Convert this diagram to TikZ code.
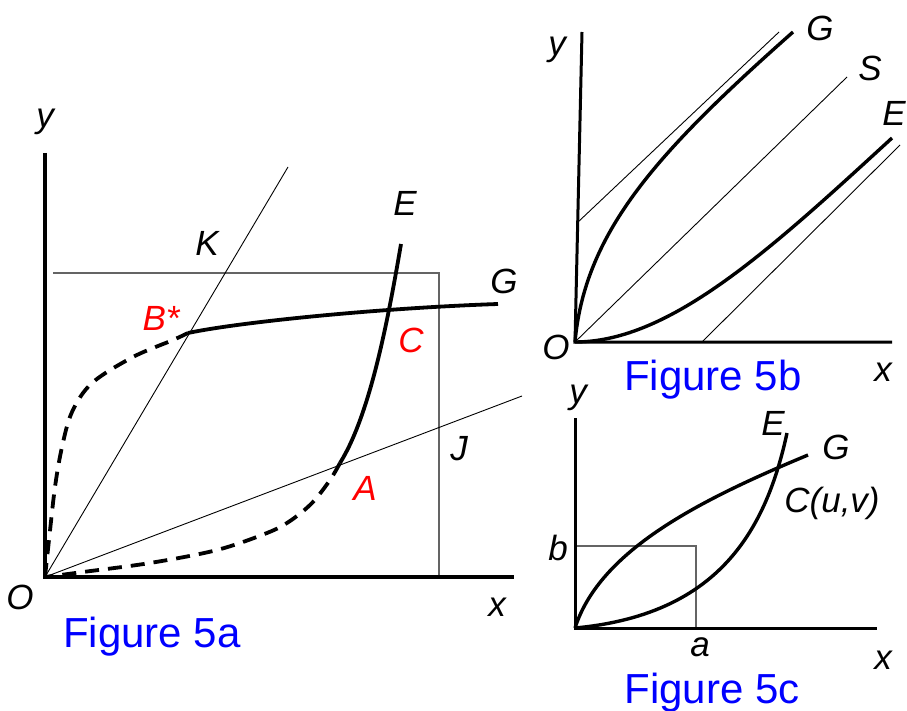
\documentclass[tikz,border=0pt]{standalone}
\usepackage{fontspec}
\setmainfont{Liberation Sans}
\begin{document}
\begin{tikzpicture}[x=1pt,y=-1pt,
  lab/.style={inner sep=0pt,font=\fontsize{35}{40}\selectfont\itshape},
  redlab/.style={lab,text=red},
  title/.style={inner sep=0pt,text={rgb,255:red,0;green,0;blue,255},font=\fontsize{42}{46}\selectfont},
  axis/.style={line width=4pt},
  axisb/.style={line width=3pt},
  curve/.style={line width=3.8pt},
  curveb/.style={line width=3.4pt},
  dashcurve/.style={line width=3.8pt,dash pattern=on 14pt off 9pt},
  thin/.style={line width=0.9pt},
  grayline/.style={line width=1.3pt,draw={rgb,255:red,100;green,100;blue,100}}]
\useasboundingbox (0,0) rectangle (907,711);
% ---------- Figure 5a ----------
\coordinate (Oa) at (45,577);
\coordinate (ya) at (45,153);
\coordinate (xa) at (514,577);
\coordinate (Bs) at (188,333);
\coordinate (A) at (340,463);
\coordinate (Kend) at (288,167);
\coordinate (Jend) at (522,396);
\coordinate (Gend) at (498,304);
\coordinate (Etop) at (401,244);
\coordinate (R1) at (53,273);
\coordinate (R2) at (439,273);
\coordinate (R3) at (439,577);
\draw[grayline] (R1) -- (R2) -- (R3);
\draw[thin] (Oa) -- (Kend);
\draw[thin] (Oa) -- (Jend);
\draw[axis] (ya) -- (Oa) -- (xa);
\draw[curve] (Bs) .. controls (240,322) and (380,308) .. (Gend);
\draw[dashcurve] plot[smooth,tension=0.55] coordinates {(45,577) (49,540) (55,487) (62,447) (72,412) (92,383) (133,357) (173,340) (188,333)};
\draw[curve] (Etop) .. controls (388,320) and (370,415) .. (A);
\draw[dashcurve] plot[smooth,tension=0.55] coordinates {(340,463) (330,480) (312,503) (290,521) (267,533) (217,550) (150,563) (83,572) (45,577)};
\node[lab] (ly) at (45,122) {y};
\node[lab] (lx) at (497,607) {x};
\node[lab] (lO) at (20,597) {O};
\node[lab] (lK) at (207,243) {K};
\node[lab] (lJ) at (459,449) {J};
\node[lab] (lE) at (405,203) {E};
\node[lab] (lG) at (504,281) {G};
\node[redlab] (lB) at (161,318) {B*};
\node[redlab] (lC) at (411,340) {C};
\node[redlab] (lA) at (365,488) {A};
\node[title] (t5a) at (152,637) {Figure 5a};
% ---------- Figure 5b ----------
\coordinate (Ob) at (575,342);
\coordinate (yb) at (582,32);
\coordinate (xb) at (892,342);
\draw[thin] (577,223) -- (779,32);
\draw[thin] (Ob) -- (847,77);
\draw[thin] (702,342) -- (900,145);
\draw[axisb] (yb) -- (Ob) -- (xb);
\draw[curveb] (Ob) .. controls (585,230) and (660,150) .. (793,32);
\draw[curveb] (Ob) .. controls (670,342) and (770,250) .. (892,138);
\node[lab] (lyb) at (557,50) {y};
\node[lab] (lxb) at (883,372) {x};
\node[lab] (lOb) at (556,347) {O};
\node[lab] (lGb) at (820,28) {G};
\node[lab] (lSb) at (870,68) {S};
\node[lab] (lEb) at (894,113) {E};
\node[title] (t5b) at (713,380) {Figure 5b};
% ---------- Figure 5c ----------
\coordinate (Oc) at (575,628);
\coordinate (yc) at (575,418);
\coordinate (xc) at (877,628);
\draw[grayline] (575,546) -- (696,546) -- (696,628);
\draw[axisb] (yc) -- (Oc) -- (xc);
\draw[curveb] (Oc) .. controls (600,550) and (700,500) .. (808,455);
\draw[curveb] (Oc) .. controls (715,615) and (765,535) .. (787,433);
\node[lab] (lyc) at (578,398) {y};
\node[lab] (lxc) at (883,660) {x};
\node[lab] (lbc) at (558,548) {b};
\node[lab] (lac) at (700,647) {a};
\node[lab] (lEc) at (773,423) {E};
\node[lab] (lGc) at (836,447) {G};
\node[lab] (lCc) at (832,503) {C(u,v)};
\node[title] (t5c) at (712,693) {Figure 5c};
\end{tikzpicture}
\end{document}
